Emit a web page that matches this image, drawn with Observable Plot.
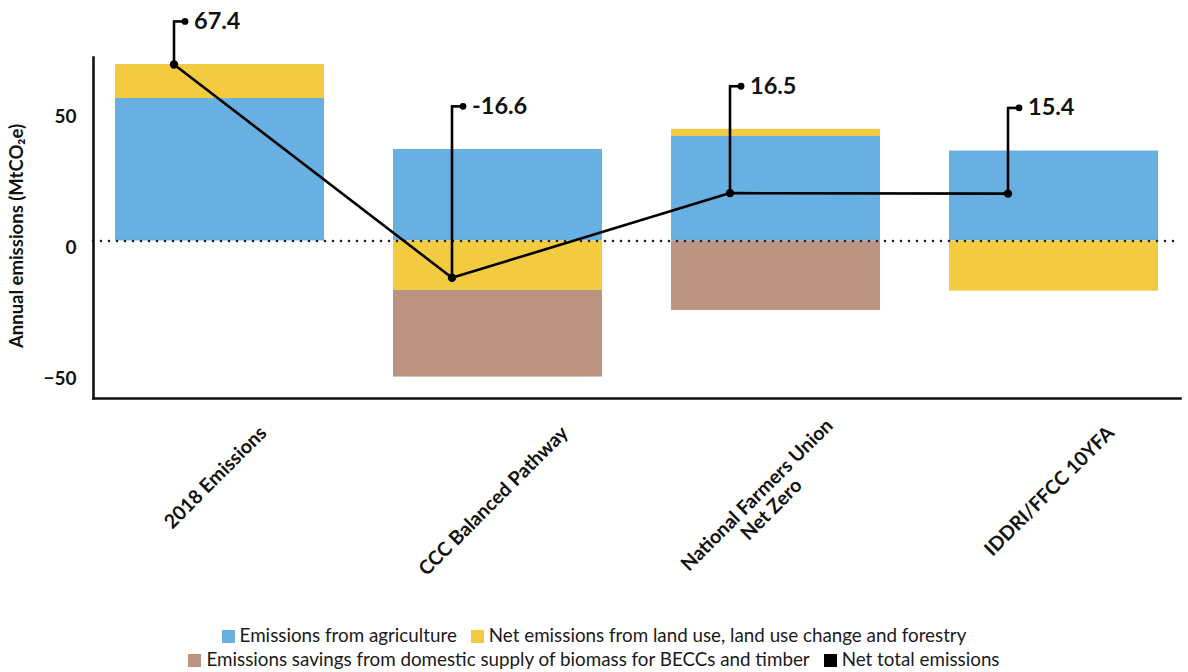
<!DOCTYPE html>
<html><head><meta charset="utf-8">
<script src="https://cdn.jsdelivr.net/npm/d3@7"></script>
<script src="https://cdn.jsdelivr.net/npm/@observablehq/plot@0.6"></script>
<style>
body{margin:0;background:#fff;font-family:Lato,"Noto Sans",sans-serif;color:#1a1a1a;}
#legend{width:1188px;text-align:center;font-size:18.8px;line-height:24px;margin-top:13px;}
#legend .row{white-space:nowrap;}
#legend .item{display:inline-block;margin:0 7px;}
#legend .sw{display:inline-block;width:13px;height:13px;margin-right:5px;vertical-align:-1px;}
</style></head><body>
<div id="chart"></div>
<div id="legend"></div>
<script>
// ---- data ----
const categories = ["2018 Emissions", "CCC Balanced Pathway", "National Farmers Union\nNet Zero", "IDDRI/FFCC 10YFA"];
const agriculture = [54.5, 35.0, 40.0, 34.4];
const landUse = [13.0, -18.9, 2.7, -19.2];
const biomass = [0, -33.2, -26.6, 0];
const netTotalLabels = ["67.4", "-16.6", "16.5", "15.4"];
const netTotalLine = [67.5, -14.1, 18.3, 18.1];
const seriesNames = [
  "Emissions from agriculture",
  "Net emissions from land use, land use change and forestry",
  "Emissions savings from domestic supply of biomass for BECCs and timber",
  "Net total emissions"
];
const seriesColors = ["#67b0e1", "#f3cb40", "#bb9582", "#000000"];
const yTicks = [-50, 0, 50];
const yAxisTitle = "Annual emissions (MtCO\u2082e)";

// ---- layout ----
const W = 1188, H = 610, ml = 93, mr = 8, mt = 57, mb = 212;
const padIn = 0.247, padOut = 0.072;
const step = (W - ml - mr) / (categories.length - padIn + 2 * padOut);
const bw = step * (1 - padIn);
const lineDx = -46, calloutLen = 11, calloutPad = 16.5;

const rows = [];
categories.forEach((c, i) => {
  rows.push({cat: c, series: seriesNames[0], value: agriculture[i]});
  rows.push({cat: c, series: seriesNames[1], value: landUse[i]});
  rows.push({cat: c, series: seriesNames[2], value: biomass[i]});
});
const net = categories.map((c, i) => ({
  cat: c,
  pos: netTotalLine[i],
  label: netTotalLabels[i],
  labelY: agriculture[i] + Math.max(landUse[i], 0) + Math.max(biomass[i], 0) + calloutPad
}));

const canvas = document.createElement("canvas");
const ctx = canvas.getContext("2d");
const xfs = 19.5;
function textW(s) {
  ctx.font = `bold ${xfs}px Lato`;
  return Math.max(...s.split("\n").map(l => ctx.measureText(l).width));
}
const xLabelMarks = categories.map(c => {
  const L = textW(c);
  const n = c.split("\n").length;
  const h = xfs * (0.8 + 1.05 * (n - 1));
  return Plot.text([c], {
    x: d => d, frameAnchor: "bottom", rotate: -45, textAnchor: "middle",
    lineHeight: 1.05, fontSize: xfs, fontWeight: "bold",
    dx: 0, dy: 30 + 0.354 * (L + h), fill: "#111"
  });
});

const chart = Plot.plot({
  width: W, height: H,
  marginLeft: ml, marginRight: mr, marginTop: mt, marginBottom: mb,
  style: {fontFamily: "Lato, 'Noto Sans', sans-serif", background: "white", color: "#111"},
  x: {domain: categories, paddingInner: padIn, paddingOuter: padOut, axis: null},
  y: {domain: [-60.3, 70.2], axis: null},
  color: {domain: seriesNames.slice(0, 3), range: seriesColors.slice(0, 3)},
  marks: [
    Plot.barY(rows, {x: "cat", y: "value", fill: "series"}),
    Plot.ruleY([0], {stroke: "#1e1e3c", strokeWidth: 2.6, strokeDasharray: "0 8", strokeLinecap: "round"}),
    Plot.axisY({ticks: yTicks, tickSize: 0, tickPadding: 17, dy: 7, fontSize: 19, fontWeight: "bold", label: null}),
    Plot.text([yAxisTitle], {frameAnchor: "left", textAnchor: "middle", rotate: -90, dx: -76, dy: 8, fontSize: 18.5, fontWeight: "bold"}),
    Plot.frame({anchor: "left", strokeWidth: 2.6}),
    Plot.frame({anchor: "bottom", strokeWidth: 2.6}),
    Plot.line(net, {x: "cat", y: "pos", dx: lineDx, stroke: "#000", strokeWidth: 2.6}),
    Plot.ruleX(net, {x: "cat", y1: "pos", y2: "labelY", dx: lineDx, stroke: "#000", strokeWidth: 2.6}),
    Plot.tickY(net, {x: "cat", y: "labelY", insetLeft: bw / 2 + lineDx - 1, insetRight: bw / 2 - lineDx - calloutLen, stroke: "#000", strokeWidth: 2.6}),
    Plot.dot(net, {x: "cat", y: "pos", dx: lineDx, r: 4.2, fill: "#000"}),
    Plot.dot(net, {x: "cat", y: "labelY", dx: lineDx + calloutLen, r: 3.4, fill: "#000"}),
    Plot.text(net, {x: "cat", y: "labelY", text: "label", dx: lineDx + calloutLen + 9, textAnchor: "start", fontSize: 23.5, fontWeight: "bold", fill: "#111"}),
    ...xLabelMarks
  ]
});
document.getElementById("chart").appendChild(chart);

const legend = document.getElementById("legend");
[[0, 1], [2, 3]].forEach(group => {
  const row = document.createElement("div");
  row.className = "row";
  group.forEach(i => {
    const item = document.createElement("span");
    item.className = "item";
    const sw = document.createElement("span");
    sw.className = "sw";
    sw.style.background = seriesColors[i];
    item.appendChild(sw);
    item.appendChild(document.createTextNode(seriesNames[i]));
    row.appendChild(item);
  });
  legend.appendChild(row);
});
</script>
</body></html>
